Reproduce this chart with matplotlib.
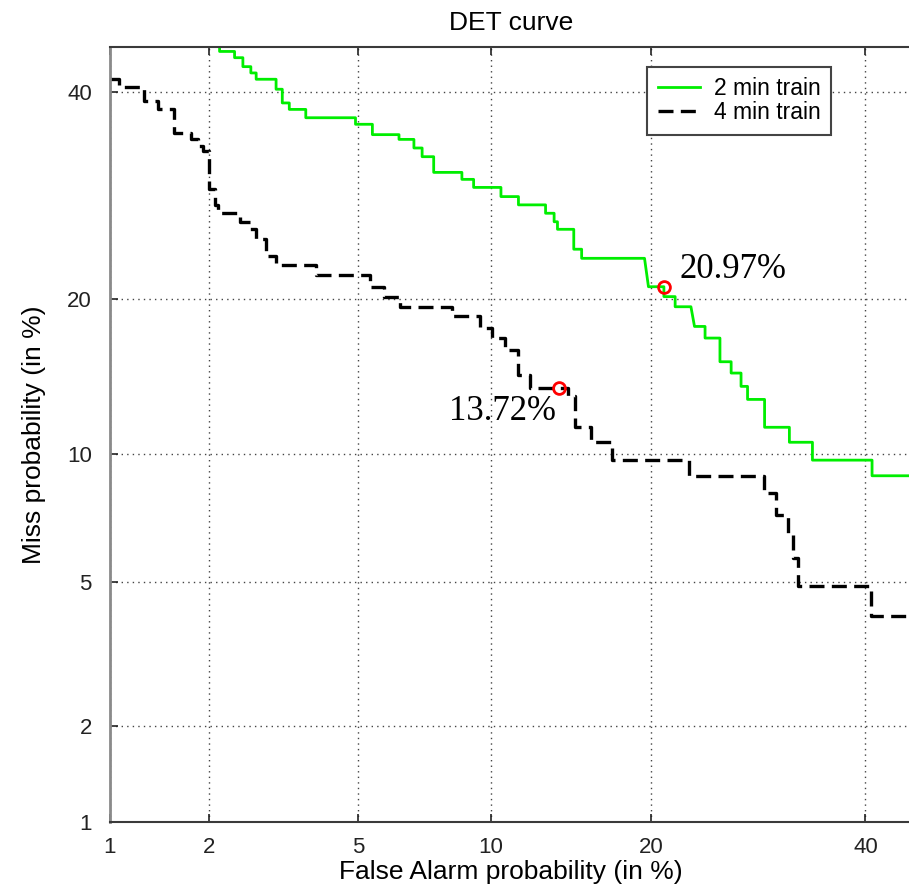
"""
DET curve — 2 min vs 4 min training, probit (normal deviate) axes.
"""
import math
from statistics import NormalDist

import matplotlib
matplotlib.use("Agg")
import matplotlib.pyplot as plt
import numpy as np

plt.rcParams["font.family"] = ["Liberation Sans", "DejaVu Sans"]

# ── Data (percent) ───────────────────────────────────────────────────────────
FA_2MIN = [2.14, 2.14, 2.36, 2.36, 2.49, 2.49, 2.62, 2.62, 2.71, 2.71, 3.07,
           3.07, 3.19, 3.19, 3.33, 3.33, 3.68, 3.68, 4.92, 4.92, 5.41, 5.41,
           6.26, 6.26, 6.78, 6.78, 7.08, 7.08, 7.52, 7.52, 8.68, 8.68, 9.20,
           9.20, 10.5, 10.5, 11.4, 11.4, 12.9, 12.9, 13.4, 13.4, 13.6, 13.6,
           14.6, 14.6, 15.1, 15.1, 19.5, 19.8, 21.0, 21.0, 21.9, 21.9, 23.2,
           23.5, 24.4, 24.4, 25.7, 25.7, 26.7, 26.7, 27.6, 27.6, 28.2, 28.2,
           29.8, 29.8, 32.2, 32.2, 34.5, 34.5, 40.7, 40.7, 46.0]
MISS_2MIN = [46.0, 44.5, 44.5, 43.8, 43.8, 42.8, 42.8, 42.1, 42.1, 41.4, 41.4,
             40.3, 40.3, 38.8, 38.8, 38.1, 38.1, 37.2, 37.2, 36.5, 36.5, 35.4,
             35.4, 34.9, 34.9, 34.0, 34.0, 33.1, 33.1, 31.5, 31.5, 30.8, 30.8,
             30.0, 30.0, 29.1, 29.1, 28.3, 28.3, 27.5, 27.5, 26.7, 26.7, 26.0,
             26.0, 24.2, 24.2, 23.4, 23.4, 21.0, 21.0, 20.2, 20.2, 19.4, 19.4,
             17.9, 17.9, 17.05, 17.05, 15.4, 15.4, 14.65, 14.65, 13.8, 13.8,
             13.0, 13.0, 11.4, 11.4, 10.6, 10.6, 9.7, 9.7, 8.96, 8.96]

FA_4MIN = [1.0, 1.07, 1.07, 1.28, 1.28, 1.41, 1.41, 1.58, 1.58, 1.77, 1.77,
           1.85, 1.85, 1.92, 1.92, 2.00, 2.00, 2.07, 2.07, 2.12, 2.12, 2.44,
           2.44, 2.60, 2.60, 2.71, 2.71, 2.88, 2.88, 3.07, 3.07, 3.91, 3.91,
           5.35, 5.35, 5.77, 5.77, 6.30, 6.30, 8.26, 8.26, 9.50, 9.50, 10.06,
           10.06, 10.71, 10.71, 11.40, 11.40, 12.03, 12.03, 14.26, 14.26,
           14.65, 14.65, 15.74, 15.74, 17.10, 17.10, 23.08, 23.08, 29.77,
           29.77, 30.88, 30.88, 32.02, 32.02, 32.51, 32.51, 33.01, 33.01,
           40.55, 40.55, 46.0]
MISS_4MIN = [41.4, 41.4, 40.6, 40.6, 39.0, 39.0, 38.1, 38.1, 35.6, 35.6, 34.9,
             34.9, 34.2, 34.2, 33.7, 33.7, 29.8, 29.8, 28.3, 28.3, 27.5, 27.5,
             26.7, 26.7, 26.0, 26.0, 25.1, 25.1, 23.6, 23.6, 22.8, 22.8, 22.0,
             22.0, 21.0, 21.0, 20.2, 20.2, 19.4, 19.4, 18.7, 18.7, 17.8, 17.8,
             17.05, 17.05, 16.2, 16.2, 14.5, 14.5, 13.72, 13.72, 13.2, 13.2,
             11.4, 11.4, 10.6, 10.6, 9.72, 9.72, 8.96, 8.96, 8.19, 8.19, 7.30,
             7.30, 6.61, 6.61, 5.74, 5.74, 4.87, 4.87, 4.07, 4.07]

EER = [20.97, 13.72]
EER_LABELS = ["20.97%", "13.72%"]
TICKS = [1, 2, 5, 10, 20, 40]

# ── Probit scale helpers ─────────────────────────────────────────────────────
_nd = NormalDist()


def _ppf1(p):
    if not math.isfinite(p):
        return float("nan")
    return _nd.inv_cdf(min(max(p / 100.0, 1e-9), 1 - 1e-9))


def _cdf1(z):
    if not math.isfinite(z):
        return float("nan")
    return 100.0 * _nd.cdf(z)


_ppf = np.vectorize(_ppf1, otypes=[float])
_cdf = np.vectorize(_cdf1, otypes=[float])


def probit(v):
    return _ppf(np.asarray(v, dtype=float))


def inv_probit(v):
    return _cdf(np.asarray(v, dtype=float))


# ── Figure ───────────────────────────────────────────────────────────────────
fig = plt.figure(figsize=(9.09, 8.85), dpi=100)
ax = fig.add_axes([0.121, 0.0712, 0.8823, 0.8757])
ax.set_xscale("function", functions=(probit, inv_probit))
ax.set_yscale("function", functions=(probit, inv_probit))

ax.plot(FA_2MIN, MISS_2MIN, color="#00ee00", linewidth=2.0, label="2 min train")
ax.plot(FA_4MIN, MISS_4MIN, color="black", linewidth=2.4,
        linestyle=(0, (4.5, 2.2)), label="4 min train")
ax.plot(EER, EER, linestyle="none", marker="o", markersize=8.5,
        markerfacecolor="none", markeredgecolor="red", markeredgewidth=2.0)

# EER labels (positions as ratios of the EER value)
ax.text(EER[0] * 1.062, EER[0] * 1.037, EER_LABELS[0], family="Liberation Serif",
        fontsize=25, ha="left", va="baseline")
ax.text(EER[1] * 0.984, EER[1] * 0.862, EER_LABELS[1], family="Liberation Serif",
        fontsize=25, ha="right", va="baseline")

ax.set_xlim(1, 45)
ax.set_ylim(1, 45)
ax.set_xticks(TICKS)
ax.set_yticks(TICKS)
ax.set_xticklabels([str(t) for t in TICKS])
ax.set_yticklabels([str(t) for t in TICKS])
ax.minorticks_off()
ax.tick_params(direction="in", length=6, width=1.2, labelsize=16,
               top=True, colors="#222222")
ax.tick_params(axis="x", pad=11)
ax.tick_params(axis="y", pad=13)
ax.grid(True, linestyle=(0, (1, 3)), color="#444444", linewidth=1.0)

for sp in ax.spines.values():
    sp.set_color("#3a3a3a")
    sp.set_linewidth(1.5)
ax.spines["left"].set_color("#8a8a8a")
ax.spines["left"].set_linewidth(2.0)

ax.set_title("DET curve", fontsize=19, pad=12)
ax.set_xlabel("False Alarm probability (in %)", fontsize=19, labelpad=1)
ax.set_ylabel("Miss probability (in %)", fontsize=19, labelpad=15)

leg = ax.legend(loc="upper right", bbox_to_anchor=(831 / 909, 1 - 67 / 885),
                bbox_transform=fig.transFigure, borderaxespad=0, fontsize=16.5,
                fancybox=False, framealpha=1, edgecolor="#444444",
                handlelength=1.85, handletextpad=0.6, borderpad=0.45,
                labelspacing=0.05)
leg.get_frame().set_linewidth(1.5)

fig.savefig("out.png", dpi=100)
